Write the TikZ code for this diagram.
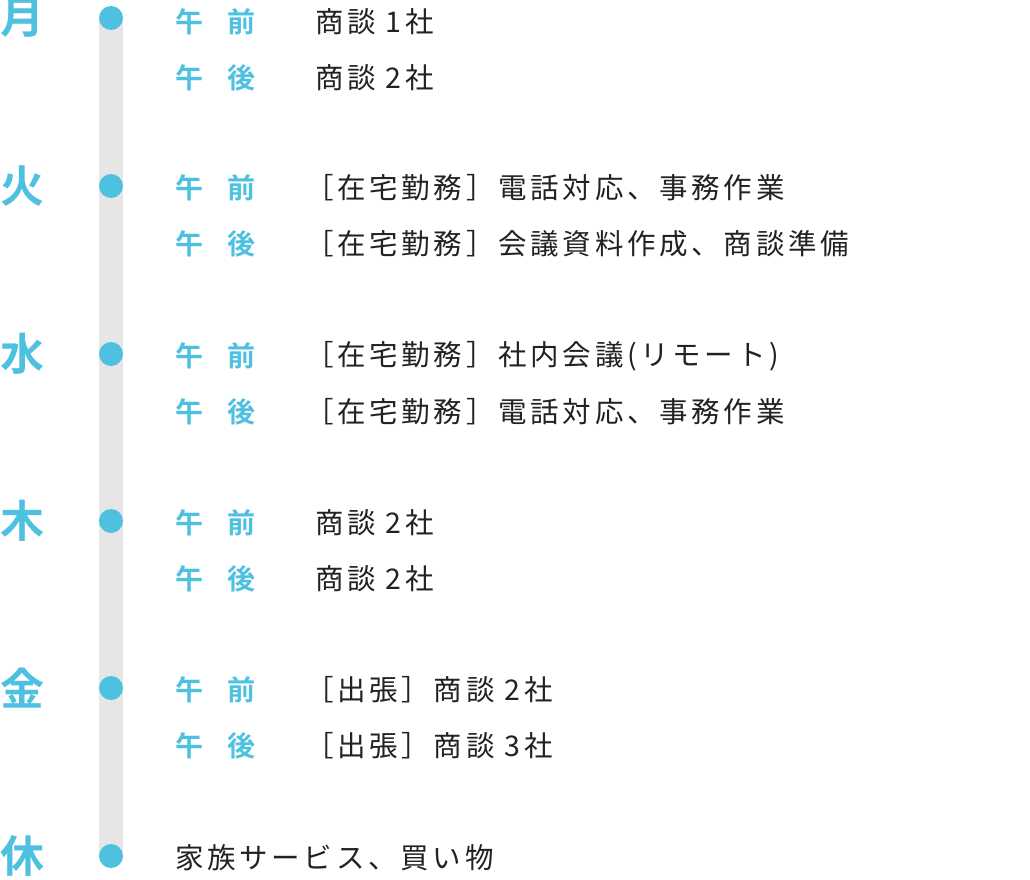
\documentclass[tikz,border=0pt]{standalone}
\usepackage{fontspec}
\setmainfont{Noto Sans CJK JP}
\newfontfamily\cjkbold{Noto Sans CJK JP Bold}
\newfontfamily\cjkwide[LetterSpace=13]{Noto Sans CJK JP}
\definecolor{daycyan}{HTML}{4FC1E0}
\definecolor{bargray}{HTML}{E6E6E6}
\definecolor{txtgray}{HTML}{222222}
\tikzset{
  day/.style={text=daycyan,font=\cjkbold\fontsize{44}{44}\selectfont,inner sep=0pt},
  dot/.style={circle,fill=daycyan,minimum size=24pt,inner sep=0pt},
  half/.style={text=daycyan,font=\cjkbold\fontsize{28}{28}\selectfont,inner sep=0pt,anchor=west},
  task/.style={text=txtgray,font=\cjkwide\fontsize{28.5}{28.5}\selectfont,inner sep=0pt,anchor=west}
}
\begin{document}
\begin{tikzpicture}[x=1pt,y=-1pt]
\useasboundingbox (0,0) rectangle (1030,880);
% timeline bar
\fill[bargray] (99,17) rectangle (123,856);
% days
\foreach \d/\y/\n in {月/18/mon,火/186/tue,水/354/wed,木/521/thu,金/688/fri,休/856/sun}{
  \node[day] (\n) at (22,\y) {\d};
  \node[dot] (dot-\n) at (111,\y) {};
}
% am / pm rows
\foreach \n/\y/\x/\am/\pm in {
  mon/22/315/商談 1社/商談 2社,
  tue/188/305/［在宅勤務］電話対応、事務作業/［在宅勤務］会議資料作成、商談準備,
  wed/356/305/［在宅勤務］社内会議(リモート)/［在宅勤務］電話対応、事務作業,
  thu/523/315/商談 2社/商談 2社,
  fri/690/305/［出張］商談 2社/［出張］商談 3社}{
  \node[half] (am-\n) at (175,\y) {午\hspace{24pt}前};
  \node[task] (amt-\n) at (\x,\y) {\am};
  \node[half] (pm-\n) at (175,\y+56) {午\hspace{24pt}後};
  \node[task] (pmt-\n) at (\x,\y+56) {\pm};
}
\node[task] (rest) at (175,858) {家族サービス、買い物};
\end{tikzpicture}
\end{document}
